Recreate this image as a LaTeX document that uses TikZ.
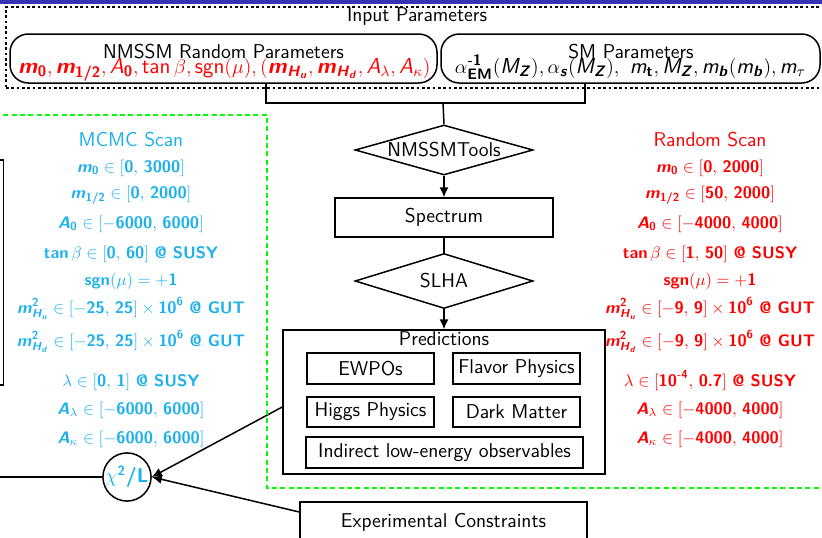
\documentclass[tikz,border=0pt]{standalone}
\usepackage{amsmath}
\usepackage{fontspec}
\usetikzlibrary{shapes.geometric,arrows.meta,calc}
\definecolor{barblue}{RGB}{51,51,179}
\definecolor{mcmc}{RGB}{28,176,236}
\definecolor{rscan}{RGB}{255,0,0}
\definecolor{gdash}{RGB}{0,255,0}
\newcommand\bv[1]{\textbf{\textsl{#1}}}
\newcommand\bn[1]{\textbf{#1}}
\newcommand\sv[1]{\textsl{#1}}
\newcommand\nfont{\sffamily\fontsize{12}{14}\selectfont}
\newcommand\lfont{\sffamily\fontsize{13}{15}\selectfont}
\newcommand\sfont{\sffamily\fontsize{10}{12}\selectfont}
\begin{document}
\begin{tikzpicture}[x=0.6pt,y=-0.6pt,
  every node/.style={font=\nfont},
  box/.style={draw,line width=0.9pt,inner sep=0pt},
  rbox/.style={box,rounded corners=11pt},
  diam/.style={diamond,draw,line width=0.9pt,aspect=3.5,inner sep=0pt},
  conn/.style={line width=0.9pt},
  arr/.style={line width=0.9pt,-{Latex[length=6pt,width=5.5pt]}},
  txt/.style={anchor=base,inner sep=0pt},
  ltxt/.style={anchor=base,inner sep=0pt,font=\lfont},
  sc/.style={anchor=base,inner sep=0pt,font=\sfont},
  dotbox/.style={draw,line width=0.8pt,dash pattern=on 1.6pt off 1.6pt,inner sep=0pt},
  gline/.style={draw=gdash,line width=1.2pt,dash pattern=on 3pt off 2pt}
]
\useasboundingbox (0,0) rectangle (822,537);
\clip (0,0) rectangle (822,537);
\fill[barblue] (0,0) rectangle (822,3.5);

% input parameters
\node[dotbox,minimum width=493.2pt,minimum height=48.6pt] (inp) at (417,47.5) {};
\node[txt] (inpl) at (417,21) {Input Parameters};

\node[rbox,minimum width=256.2pt,minimum height=29.4pt] (nm) at (223.5,58.5) {};
\node[txt] (nmt) at (223.5,58) {NMSSM Random Parameters};
\node[ltxt,text=rscan] (nmr) at (224.5,73) {$\bv{m}_{\bn{0}}, \bv{m}_{\bn{1/2}}, \sv{A}_{\bn{0}}, \text{tan}\,\beta, \text{sgn}(\mu), (\bv{m}_{\bv{H}_{\bv{u}}}, \bv{m}_{\bv{H}_{\bv{d}}}, \sv{A}_\lambda, \sv{A}_\kappa)$};

\node[rbox,minimum width=227.4pt,minimum height=29.4pt] (sm) at (630.5,58.5) {};
\node[txt] (smt) at (631,58) {SM Parameters};
\node[ltxt] (sml) at (630.5,73) {$\alpha^{\bn{-1}}_{\bn{EM}}(\sv{M}_{\bv{Z}}), \alpha_{\bv{s}}(\sv{M}_{\bv{Z}}),\ \sv{m}_{\bn{t}}, \sv{M}_{\bv{Z}}, \sv{m}_{\bv{b}}(\sv{m}_{\bv{b}}), \sv{m}_\tau$};

% chain
\coordinate (j) at (443,103);
\node[diam,minimum width=106.8pt,minimum height=30pt] (tools) at (444,150) {NMSSMTools};
\node[box,minimum width=130.8pt,minimum height=23.4pt] (spec) at (444,217.5) {Spectrum};
\node[diam,minimum width=106.8pt,minimum height=33pt] (slha) at (444,281) {SLHA};
\node[box,minimum width=193.2pt,minimum height=86.4pt] (pred) at (444,402) {};
\node[txt] (predl) at (444,345) {Predictions};
\node[box,minimum width=76.2pt,minimum height=18.6pt] (ew) at (370.5,368.5) {EWPOs};
\node[box,minimum width=76.2pt,minimum height=18.6pt] (fl) at (516.5,368.5) {Flavor Physics};
\node[box,minimum width=76.2pt,minimum height=18pt] (hg) at (370.5,412) {Higgs Physics};
\node[box,minimum width=76.2pt,minimum height=18pt] (dm) at (516.5,412) {Dark Matter};
\node[box,minimum width=166.2pt,minimum height=18.6pt] (ind) at (444.5,452.5) {Indirect low-energy observables};
\node[box,minimum width=172.2pt,minimum height=24pt] (exp) at (443.5,522) {Experimental Constraints};

\draw[conn] ([xshift=25.5pt]nm.south) |- (j) -| ([xshift=-27.3pt]sm.south);
\draw[conn] (j) -- (tools.north);
\draw[arr] (tools.south) -- (spec.north);
\draw[conn] (spec.south) -- (slha.north);
\draw[arr] (slha.south) -- (pred.north);

% chi2
\node[circle,draw,line width=0.9pt,minimum size=26.4pt,inner sep=0pt,text=mcmc] (chi) at (127,477) {$\chi^{\bn{2}}\bn{/L}$};
\draw[arr] ([yshift=-3pt]pred.west) -- (chi.east);
\draw[arr] ([yshift=6pt]exp.west) -- (chi.east);
\coordinate (lin) at (-5,477);
\draw[conn] (lin) -- (chi.west);

% left box (cut off)
\node[box,line width=1.1pt,minimum width=16.2pt,minimum height=135pt] (lb) at (-10,272.5) {};

% green dashed
\draw[gline] (-5,115) -- (267,115) -- (267,488) -- (830,488);

% MCMC scan
\begin{scope}[text=mcmc]
\node[txt] (mc0) at (131,146) {MCMC Scan};
\node[sc] (mc1) at (131,172) {$\bv{m}_{\bn{0}}\in[\bn{0},\,\bn{3000}]$};
\node[sc] (mc2) at (131,198) {$\bv{m}_{\bn{1/2}}\in[\bn{0},\,\bn{2000}]$};
\node[sc] (mc3) at (131,228) {$\bv{A}_{\bn{0}}\in[-\bn{6000},\,\bn{6000}]$};
\node[sc] (mc4) at (131,258) {$\bn{tan}\,\beta\in[\bn{0},\,\bn{60}]\ \bn{@ SUSY}$};
\node[sc] (mc5) at (131,285) {$\bn{sgn}(\mu)=+\bn{1}$};
\node[sc] (mc6) at (131,313) {$\bv{m}^{\bn{2}}_{\bv{H}_{\bv{u}}}\in[-\bn{25},\,\bn{25}]\times\bn{10}^{\bn{6}}\ \bn{@ GUT}$};
\node[sc] (mc7) at (131,346) {$\bv{m}^{\bn{2}}_{\bv{H}_{\bv{d}}}\in[-\bn{25},\,\bn{25}]\times\bn{10}^{\bn{6}}\ \bn{@ GUT}$};
\node[sc] (mc8) at (131,386) {$\lambda\in[\bn{0},\,\bn{1}]\ \bn{@ SUSY}$};
\node[sc] (mc9) at (131,414) {$\bv{A}_\lambda\in[-\bn{6000},\,\bn{6000}]$};
\node[sc] (mc10) at (131,443) {$\bv{A}_\kappa\in[-\bn{6000},\,\bn{6000}]$};
\end{scope}

% Random scan
\begin{scope}[text=rscan]
\node[txt] (rs0) at (710,146) {Random Scan};
\node[sc] (rs1) at (710,172) {$\bv{m}_{\bn{0}}\in[\bn{0},\,\bn{2000}]$};
\node[sc] (rs2) at (710,198) {$\bv{m}_{\bn{1/2}}\in[\bn{50},\,\bn{2000}]$};
\node[sc] (rs3) at (710,228) {$\bv{A}_{\bn{0}}\in[-\bn{4000},\,\bn{4000}]$};
\node[sc] (rs4) at (710,258) {$\bn{tan}\,\beta\in[\bn{1},\,\bn{50}]\ \bn{@ SUSY}$};
\node[sc] (rs5) at (710,285) {$\bn{sgn}(\mu)=+\bn{1}$};
\node[sc] (rs6) at (710,313) {$\bv{m}^{\bn{2}}_{\bv{H}_{\bv{u}}}\in[-\bn{9},\,\bn{9}]\times\bn{10}^{\bn{6}}\ \bn{@ GUT}$};
\node[sc] (rs7) at (710,346) {$\bv{m}^{\bn{2}}_{\bv{H}_{\bv{d}}}\in[-\bn{9},\,\bn{9}]\times\bn{10}^{\bn{6}}\ \bn{@ GUT}$};
\node[sc] (rs8) at (710,386) {$\lambda\in[\bn{10}^{\bn{-4}},\,\bn{0.7}]\ \bn{@ SUSY}$};
\node[sc] (rs9) at (710,414) {$\bv{A}_\lambda\in[-\bn{4000},\,\bn{4000}]$};
\node[sc] (rs10) at (710,443) {$\bv{A}_\kappa\in[-\bn{4000},\,\bn{4000}]$};
\end{scope}
\end{tikzpicture}
\end{document}
